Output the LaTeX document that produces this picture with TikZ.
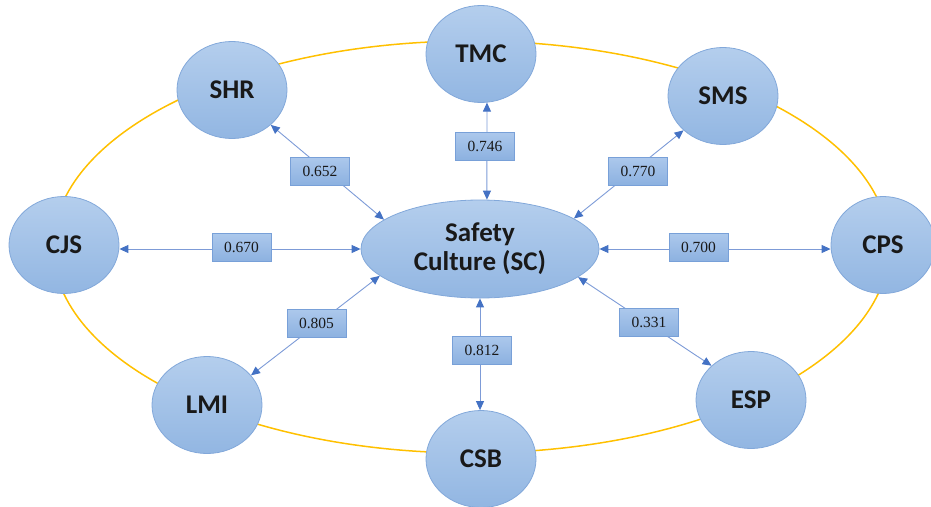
\documentclass[tikz,border=0pt]{standalone}
\usepackage{fontspec}
\setmainfont{Liberation Serif}
\newfontfamily\calfont{Carlito}
\usetikzlibrary{arrows.meta,backgrounds,shapes.geometric}

\definecolor{nodetop}{RGB}{180,206,237}
\definecolor{nodebot}{RGB}{146,182,226}
\definecolor{nodeline}{RGB}{130,168,218}
\definecolor{boxtop}{RGB}{172,200,236}
\definecolor{boxbot}{RGB}{140,177,224}
\definecolor{boxline}{RGB}{120,160,216}
\definecolor{linkline}{RGB}{125,155,215}
\definecolor{tipblue}{RGB}{68,114,196}
\definecolor{ringgold}{RGB}{255,192,0}
\definecolor{inkdark}{RGB}{25,25,25}

\tikzset{
  factor/.style={ellipse, minimum width=110pt, minimum height=97pt, inner sep=0pt,
    top color=nodetop, bottom color=nodebot, draw=nodeline, line width=0.8pt,
    text=inkdark, font=\calfont\bfseries\fontsize{27}{29}\selectfont},
  core/.style={factor, minimum width=238pt, minimum height=98pt, align=center},
  weight/.style={rectangle, minimum width=59pt, minimum height=28pt, inner sep=0pt,
    top color=boxtop, bottom color=boxbot, draw=boxline, line width=0.6pt,
    text=inkdark, font=\fontsize{15.5}{17}\selectfont},
  link/.style={draw=linkline, line width=0.9pt,
    >={Triangle[length=9pt,width=8pt,color=tipblue]}, <->},
  ring/.style={draw=ringgold, line width=1.5pt}
}

\begin{document}
\begin{tikzpicture}[x=1pt,y=-1pt]
  \useasboundingbox (0,0) rectangle (931,506);
  \clip (0,0) rectangle (931,506);

  % central construct and its eight dimensions
  \node[core]   (SC)  at (480,249) {Safety\\Culture (SC)};
  \node[factor] (TMC) at (481,54)  {TMC};
  \node[factor] (SHR) at (232,90)  {SHR};
  \node[factor] (SMS) at (723,96)  {SMS};
  \node[factor] (CJS) at (64,245)  {CJS};
  \node[factor, minimum width=104pt] (CPS) at (883,245) {CPS};
  \node[factor] (LMI) at (207,405) {LMI};
  \node[factor] (CSB) at (481,459) {CSB};
  \node[factor] (ESP) at (751,400) {ESP};

  % ring linking the dimensions
  \begin{pgfonlayer}{background}
    \draw[ring] (471,247) ellipse [x radius=418, y radius=206];
  \end{pgfonlayer}

  % two-headed paths from the centre
  \draw[link] (SC.82)    -- (TMC.-83);
  \draw[link] (SC.163.5) -- (SHR.-42.8);
  \draw[link] (SC.18.8)  -- (SMS.-139);
  \draw[link] (SC.west)  -- (SC.west -| CJS.east);
  \draw[link] (SC.east)  -- (SC.east -| CPS.west);
  \draw[link] (SC.195.4) -- (LMI.34.8);
  \draw[link] (SC.south) -- (SC.south |- CSB.north);
  \draw[link] (SC.-16.7) -- (ESP.139.8);

  % path coefficients
  \node[weight] (wTMC) at (485,146)   {0.746};
  \node[weight] (wSHR) at (320,171)   {0.652};
  \node[weight] (wSMS) at (638,171)   {0.770};
  \node[weight] (wCJS) at (241.5,247.5) {0.670};
  \node[weight] (wCPS) at (698.5,247.5) {0.700};
  \node[weight] (wLMI) at (316.5,323.5) {0.805};
  \node[weight] (wCSB) at (482,350)   {0.812};
  \node[weight] (wESP) at (649,322)   {0.331};
\end{tikzpicture}
\end{document}
